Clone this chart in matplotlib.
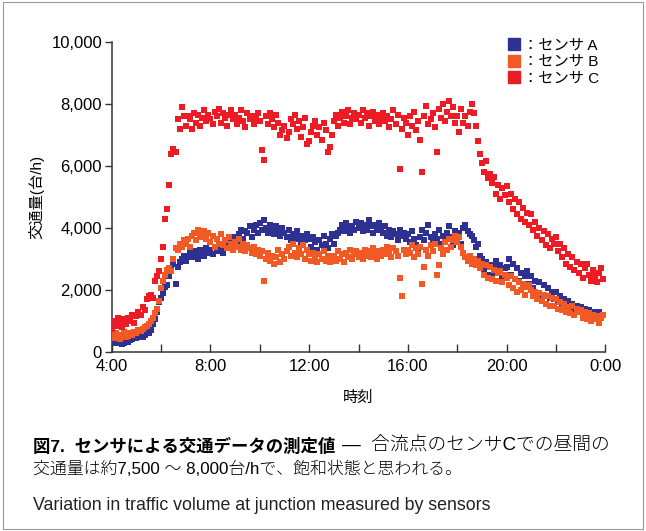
import matplotlib.pyplot as plt
from matplotlib.lines import Line2D
from matplotlib.patches import Rectangle
from matplotlib.ticker import FuncFormatter

plt.rcParams['font.family'] = ['Liberation Sans', 'Noto Sans CJK JP']

# 5分ごとの交通量 [台/h]、1行 = 1時間 (4時〜23時)
hours = list(range(4, 24))

sensor_a = [
    [350, 300, 330, 280, 310, 260, 300, 350, 320, 380, 420, 450],
    [450, 480, 520, 500, 560, 600, 620, 720, 900, 1050, 1300, 1600],
    [1750, 1900, 2100, 2150, 2450, 2700, 2850, 2200, 2750, 2900, 3000, 3100],
    [2950, 3100, 3200, 3050, 3250, 3150, 3000, 3300, 3200, 3100, 3350, 3200],
    [3300, 3150, 3400, 3250, 3500, 3350, 3200, 3450, 3600, 3500, 3400, 3650],
    [3700, 3550, 3800, 3950, 3650, 3900, 3850, 4050, 3700, 3950, 4100, 3850],
    [4150, 3950, 4250, 4000, 3850, 4100, 3950, 3800, 4050, 3900, 3750, 4000],
    [3850, 3700, 3950, 3600, 3800, 3650, 3900, 3700, 3550, 3750, 3600, 3800],
    [3650, 3400, 3700, 3550, 3300, 3600, 3450, 3750, 3500, 3350, 3650, 3800],
    [3500, 3750, 3850, 3950, 4100, 3900, 4150, 4000, 3850, 4050, 3950, 4200],
    [4000, 4150, 3900, 4100, 3950, 4250, 4050, 3850, 4100, 3950, 4150, 4000],
    [3850, 4050, 3750, 3950, 3700, 3900, 3800, 3600, 3950, 3750, 3850, 3650],
    [3800, 3550, 3900, 3650, 3450, 3250, 3700, 3950, 3600, 3850, 4100, 3700],
    [3550, 3800, 3650, 3950, 3500, 3750, 3600, 3850, 4050, 3700, 3450, 3900],
    [3650, 3850, 3500, 4000, 4100, 3900, 3800, 3750, 3600, 3400, 3500, 3100],
    [3000, 2650, 2900, 2500, 2800, 2450, 2750, 2950, 2550, 2800, 2400, 2700],
    [2750, 3000, 2500, 2850, 2350, 2700, 2300, 2550, 2150, 2450, 2600, 2200],
    [2450, 2050, 2300, 1900, 2250, 1850, 2150, 1800, 2050, 1750, 1950, 1700],
    [1950, 1650, 1800, 1550, 1700, 1450, 1650, 1400, 1550, 1350, 1500, 1300],
    [1450, 1250, 1400, 1200, 1350, 1150, 1300, 1100, 1250, 1300, 1100, 1200],
]

sensor_b = [
    [550, 450, 600, 500, 420, 550, 650, 480, 520, 600, 560, 650],
    [620, 700, 680, 750, 800, 850, 900, 1000, 1100, 1250, 1400, 1650],
    [2050, 2300, 2500, 2650, 2700, 2600, 3000, 3350, 3300, 3500, 3400, 3600],
    [3500, 3650, 3400, 3750, 3850, 3600, 3950, 3800, 3700, 3900, 3650, 3850],
    [3550, 3750, 3400, 3650, 3500, 3800, 3450, 3600, 3350, 3700, 3500, 3300],
    [3550, 3400, 3650, 3300, 3500, 3250, 3450, 3350, 3200, 3400, 3150, 3300],
    [3100, 3250, 2300, 3000, 3200, 2950, 3100, 2850, 3050, 3300, 2900, 3150],
    [3000, 3250, 3400, 3100, 3500, 3200, 3050, 3350, 3150, 3450, 3000, 3300],
    [3150, 2950, 3200, 3050, 2900, 3150, 3000, 3250, 2950, 3100, 2900, 3050],
    [3100, 2950, 3250, 3000, 3150, 2900, 3200, 3050, 3300, 3000, 3150, 3250],
    [3050, 3200, 3000, 3300, 3100, 3250, 3050, 3350, 3150, 3000, 3250, 3100],
    [3300, 3150, 3400, 3200, 3050, 3350, 3250, 3100, 2400, 1800, 3300, 3150],
    [3300, 3200, 3450, 3050, 3350, 3150, 3400, 2200, 2750, 3300, 3100, 3450],
    [3250, 3500, 2500, 2800, 3350, 3150, 3550, 3300, 3650, 3400, 3600, 3750],
    [3550, 3700, 3400, 3200, 3050, 2950, 3100, 2850, 3000, 2800, 2950, 2700],
    [2850, 2500, 2800, 2400, 2750, 2350, 2650, 2300, 2550, 2600, 2250, 2500],
    [2400, 2150, 2450, 2050, 2350, 1950, 2250, 2000, 2200, 1850, 2100, 2150],
    [2000, 1800, 1950, 1700, 1900, 1650, 1850, 1550, 1800, 1500, 1750, 1500],
    [1700, 1400, 1600, 1350, 1550, 1300, 1450, 1250, 1500, 1200, 1400, 1300],
    [1350, 1100, 1300, 1050, 1250, 1000, 1200, 1050, 1150, 950, 1100, 1200],
]

sensor_c = [
    [750, 1000, 850, 1100, 950, 800, 1050, 900, 1100, 1000, 1200, 950],
    [1150, 1300, 1200, 1450, 1350, 1700, 1800, 1850, 1750, 2300, 2450, 2600],
    [3000, 3400, 4300, 4600, 5400, 6400, 6550, 6450, 7500, 7200, 7900, 7600],
    [7300, 7600, 7500, 7200, 7700, 7400, 7650, 7300, 7550, 7800, 7450, 7650],
    [7500, 7350, 7750, 7600, 7850, 7400, 7700, 7550, 7300, 7650, 7800, 7500],
    [7650, 7350, 7550, 7800, 7450, 7250, 7700, 7500, 7600, 7350, 7550, 7700],
    [7450, 6500, 6200, 7600, 7350, 7700, 7500, 7250, 7650, 7400, 7000, 7150],
    [7300, 6900, 7100, 7500, 7350, 7650, 7200, 7450, 6950, 7250, 7550, 6700],
    [6800, 7100, 7300, 7450, 7000, 7250, 6850, 7400, 7150, 6450, 6600, 7000],
    [7450, 7650, 7300, 7550, 7750, 7400, 7600, 7800, 7350, 7550, 7700, 7500],
    [7650, 7400, 7800, 7550, 7700, 7300, 7600, 7750, 7450, 7650, 7350, 7550],
    [7700, 7450, 7600, 7250, 7500, 7800, 7350, 7650, 5900, 7200, 7550, 7400],
    [7000, 7600, 7300, 7750, 7150, 7450, 6850, 5800, 7600, 7950, 7350, 7500],
    [7700, 7250, 6450, 7850, 7550, 8000, 7450, 7750, 8100, 7600, 7900, 7400],
    [7600, 7100, 7850, 7400, 7600, 7300, 7750, 8000, 7700, 7300, 6800, 6400],
    [6100, 5800, 6150, 5600, 5750, 5450, 5650, 5100, 5400, 4950, 5300, 5050],
    [5350, 4850, 5100, 4600, 4950, 4450, 4850, 4300, 4650, 4200, 4500, 4100],
    [4450, 3950, 4200, 3750, 4000, 3600, 3900, 3450, 3800, 3350, 3650, 3500],
    [3700, 3250, 3500, 3050, 3350, 2850, 3150, 2750, 3050, 2650, 2900, 2550],
    [2850, 2400, 2700, 2850, 2500, 2300, 2650, 2450, 2250, 2550, 2700, 2350],
]

labels = ['：センサ A', '：センサ B', '：センサ C']
colors = ['#2e3192', '#f15a24', '#ed1c24']

tick_hours = [4, 8, 12, 16, 20, 24]
tick_labels = ['4:00', '8:00', '12:00', '16:00', '20:00', '0:00']

times = [h + m / 60 for h in hours for m in range(0, 60, 5)]

fig = plt.figure(figsize=(6.46, 5.31), dpi=100)
ax = fig.add_axes([0.173, 0.337, 0.764, 0.584])

for series, color in zip([sensor_a, sensor_b, sensor_c], colors):
    vals = [v for row in series for v in row]
    ax.scatter(times, vals, marker='s', s=19, color=color, linewidths=0, zorder=3)

ax.set_xlim(4, 24)
ax.set_ylim(0, 10000)
ax.set_xticks(tick_hours)
ax.set_xticklabels(tick_labels)
ax.set_xticks([6, 10, 14, 18, 22], minor=True)
ax.set_yticks([0, 2000, 4000, 6000, 8000, 10000])
ax.yaxis.set_major_formatter(FuncFormatter(lambda v, p: f'{int(v):,}'))

for s in ['top', 'right']:
    ax.spines[s].set_visible(False)
for s in ['left', 'bottom']:
    ax.spines[s].set_linewidth(1.1)
    ax.spines[s].set_color('#333333')

ax.tick_params(axis='x', which='both', direction='in', length=6, width=1, color='#333333',
               labelsize=12, pad=5)
ax.tick_params(axis='y', direction='out', length=5, width=1, color='#333333',
               labelsize=12, pad=2)

ax.set_xlabel('時刻', fontsize=11, labelpad=12)
ax.set_ylabel('交通量(台/h)', fontsize=11, labelpad=5)

handles = [Line2D([], [], marker='s', linestyle='none', markersize=8, color=c) for c in colors]
ax.legend(handles, labels, loc='upper right', bbox_to_anchor=(1.0, 1.03), frameon=False,
          fontsize=11, handlelength=0.6, handletextpad=0.3, labelspacing=0.15,
          borderaxespad=0.0)

# キャプション
fig.text(0.051, 0.160, '図7.  センサによる交通データの測定値', fontsize=12.5,
         fontweight='bold', va='center')
fig.text(0.530, 0.160, '—  合流点のセンサCでの昼間の', fontsize=13.5,
         fontweight='light', va='center')
fig.text(0.051, 0.118, '交通量は約7,500 ～ 8,000台/hで、飽和状態と思われる。',
         fontsize=12.2, fontweight='light', va='center')
fig.text(0.051, 0.048, 'Variation in traffic volume at junction measured by sensors',
         fontsize=12.8, va='center', color='#222222')

fig.patches.append(Rectangle((0.004, 0.004), 0.992, 0.992, transform=fig.transFigure,
                             fill=False, edgecolor='#999999', linewidth=0.8))

fig.savefig('out.png', dpi=100)
